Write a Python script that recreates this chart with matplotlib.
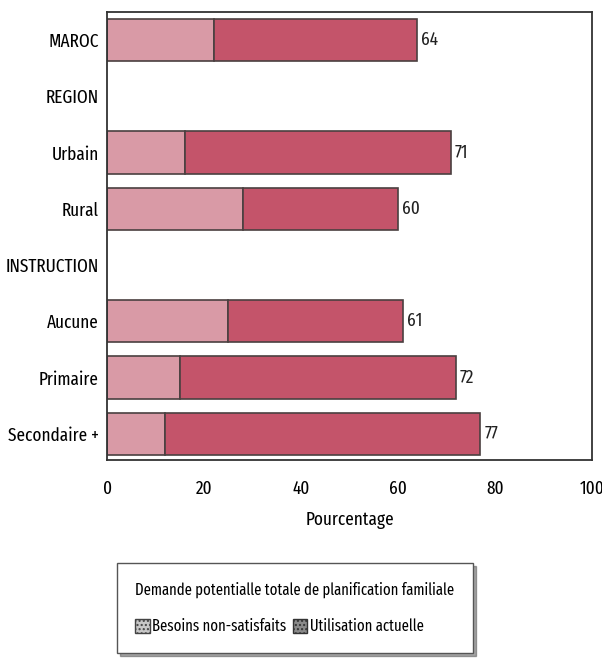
import numpy as np
import matplotlib
matplotlib.use("Agg")
import matplotlib.pyplot as plt
from matplotlib.patches import Patch

plt.rcParams['font.family'] = ['Fira Sans Extra Condensed', 'Archivo Narrow', 'DejaVu Sans']

categories = ["MAROC", "REGION", "Urbain", "Rural", "INSTRUCTION",
              "Aucune", "Primaire", "Secondaire +"]
besoins = [22, None, 16, 28, None, 25, 15, 12]
utilisation = [42, None, 55, 32, None, 36, 57, 65]
totals = [64, None, 71, 60, None, 61, 72, 77]
x_ticks = [0, 20, 40, 60, 80, 100]

light = "#d99aa6"
dark = "#c4546a"
edge = "#4a4040"
fs = 13.5

fig = plt.figure(figsize=(6.02, 6.64), dpi=100)
ax = fig.add_axes([0.178, 0.307, 0.805, 0.675])

for i, cat in enumerate(categories):
    if besoins[i] is None:
        continue
    ax.barh(i, besoins[i], height=0.75, color=light, edgecolor=edge, linewidth=1.2)
    ax.barh(i, utilisation[i], left=besoins[i], height=0.75, color=dark,
            edgecolor=edge, linewidth=1.2)
    ax.text(totals[i] + 0.8, i, str(totals[i]), va='center', ha='left',
            fontsize=fs, color='#222222')

ax.set_xlim(0, 100)
ax.set_ylim(7.47, -0.5)
ax.set_yticks(range(len(categories)))
ax.set_yticklabels(categories, fontsize=fs)
ax.set_xticks(x_ticks)
ax.set_xticklabels([str(t) for t in x_ticks], fontsize=fs)
ax.tick_params(length=0, pad=6)
ax.tick_params(axis='x', pad=14)
ax.set_xlabel("Pourcentage", fontsize=fs, labelpad=10)
for s in ax.spines.values():
    s.set_color('#333333')
    s.set_linewidth(1.3)

# legende (petits carres gris comme dans le rapport)
handles = [Patch(facecolor='#c8c8c8', edgecolor='#444444', hatch='....', label='Besoins non-satisfaits'),
           Patch(facecolor='#8a8a8a', edgecolor='#333333', hatch='....', label='Utilisation actuelle')]
leg = fig.legend(handles=handles, loc='center', bbox_to_anchor=(0.49, 0.084),
                 ncol=2, frameon=True, fancybox=False, shadow=True,
                 title="Demande potentialle totale de planification familiale",
                 fontsize=11.5, title_fontsize=11.5, handlelength=0.9, handleheight=1.0,
                 handletextpad=0.15, columnspacing=0.4, borderpad=1.15,
                 labelspacing=0.5)
leg._legend_box.align = 'left'
leg.get_frame().set_edgecolor('#555555')
leg.get_frame().set_linewidth(1.0)
leg._legend_box.sep = 15

fig.savefig("out.png", dpi=100)
